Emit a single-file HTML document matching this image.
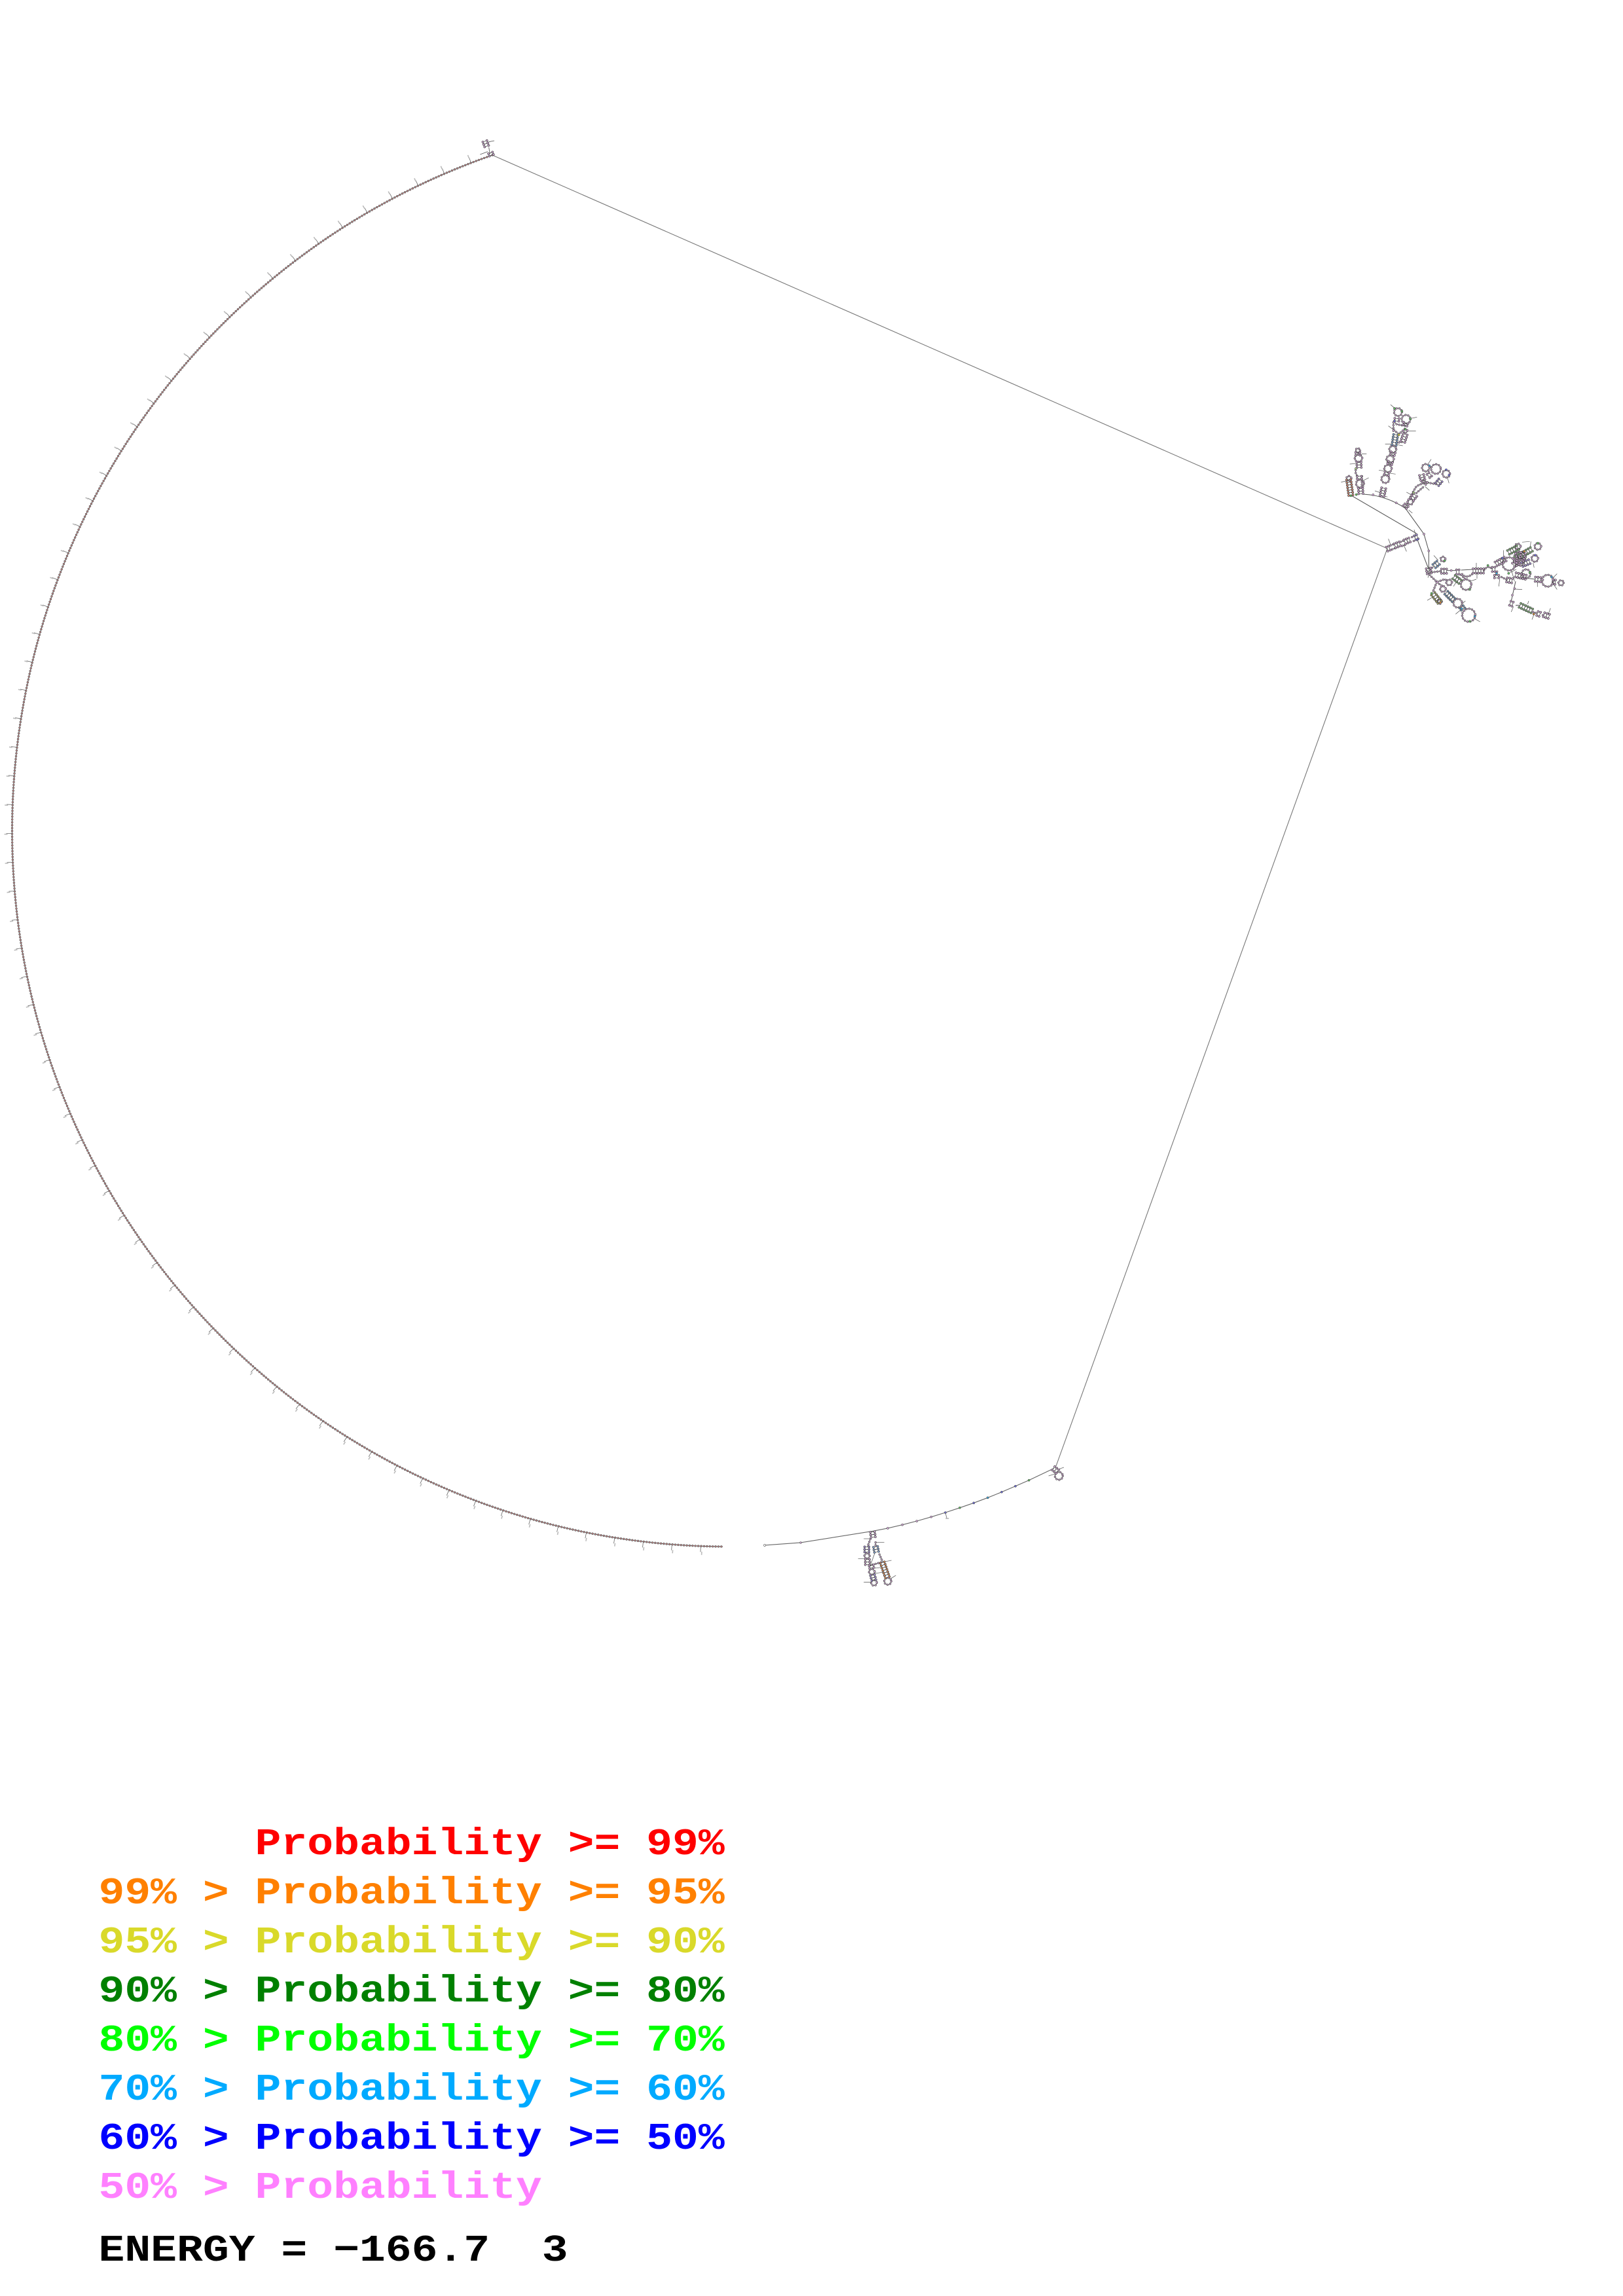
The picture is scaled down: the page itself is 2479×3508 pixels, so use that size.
<!DOCTYPE html>
<html><head><meta charset="utf-8"><style>
html,body{margin:0;padding:0;background:#fff}
svg{display:block}
text{font-family:"Liberation Mono",monospace;font-weight:bold;font-size:66px;white-space:pre}
</style></head><body>
<svg xmlns="http://www.w3.org/2000/svg" width="2479" height="3508" viewBox="0 0 2479 3508">
<defs>
<circle id="n" r="4.4" stroke="#4c4c4c" stroke-width="2.2"/>
<g id="r"><path d="M0-10V10" stroke="#444" stroke-width="2.2"/><use href="#n" y="-10"/><use href="#n" y="10"/></g>
<g id="l2"><path d="M0-10H12M0 10H12" stroke="#444" stroke-width="2.6"/><use href="#r"/><use href="#r" x="12"/></g>
<g id="l3"><use href="#l2"/><use href="#l2" x="12"/></g>
<g id="l4"><use href="#l3"/><use href="#l2" x="24"/></g>
<g id="l5"><use href="#l3"/><use href="#l3" x="24"/></g>
<g id="l6"><use href="#l5"/><use href="#l2" x="48"/></g>
<g id="l7"><use href="#l5"/><use href="#l3" x="48"/></g>
<g id="l8"><use href="#l5"/><use href="#l4" x="48"/></g>
<g id="bb">
<path d="M372,760L392,752M380,778L400,770M418,744L438,735M426,762L446,754M470,722L485,716M478,740L492,734"/>
<path d="M240,495L241,440M218,440Q205,420 218,405"/>
<path d="M385,235L385,190L400,205L438,212M398,290L430,285M388,232L410,250L438,225"/>
<path d="M440,585Q470,520 490,490Q510,478 525,475M490,520L525,490M530,470L585,480"/>
<path d="M552,870L572,855M548,885L603,878M800,875Q818,845 838,870M700,892Q720,915 748,890M695,895L715,915"/>
<path d="M550,895L585,928L620,915L635,925M583,930L565,975M585,930L612,948M708,1060L715,1060"/>
<path d="M860,880L856,897M880,905L905,918M1025,1065L1045,1072M1070,1080L1075,1078M1070,918L1065,918M1115,927L1119,927"/>
<circle cx="181" cy="453" r="11"/><circle cx="232" cy="477" r="18"/><circle cx="225" cy="360" r="17"/><circle cx="222" cy="325" r="10"/>
<circle cx="348" cy="456" r="18"/><circle cx="360" cy="408" r="17"/><circle cx="370" cy="365" r="17"/><circle cx="382" cy="320" r="16"/>
<circle cx="406" cy="149" r="18"/><circle cx="443" cy="182" r="20"/><circle cx="440" cy="235" r="9"/>
<circle cx="462" cy="560" r="13"/><circle cx="533" cy="404" r="17"/><circle cx="580" cy="410" r="22"/><circle cx="627" cy="432" r="17"/>
<circle cx="612" cy="823" r="11"/><circle cx="718" cy="940" r="24"/><circle cx="640" cy="930" r="13"/><circle cx="597" cy="1018" r="10"/><circle cx="612" cy="960" r="13"/><circle cx="680" cy="1025" r="20"/><circle cx="730" cy="1080" r="30"/>
<circle cx="955" cy="765" r="13"/><circle cx="1047" cy="765" r="15"/><circle cx="965" cy="815" r="26"/><circle cx="915" cy="845" r="30"/><circle cx="993" cy="890" r="20"/><circle cx="1033" cy="820" r="15"/><circle cx="1092" cy="922" r="27"/><circle cx="1153" cy="932" r="12"/><circle cx="965" cy="835" r="18"/><circle cx="950" cy="825" r="16"/>
</g>
<g id="bb2">
<path d="M208,455L195,490M232,470L232,488M250,525L265,560M207,575L262,560"/>
<circle cx="193" cy="532" r="12"/><circle cx="288" cy="648" r="16"/><circle cx="215" cy="605" r="13"/><circle cx="225" cy="655" r="13"/><circle cx="1072" cy="165" r="18"/>
</g>
</defs>

<path d="M752,237L2119,838L1613,2240" fill="none" stroke="#777" stroke-width="1.1"/>

<!-- long arc -->
<g fill="none">
<path d="M752,237A1093.5,1093.5 0 0 0 1104,2363" stroke="#555" stroke-width="1"/>
<path d="M752,237A1093.5,1093.5 0 0 0 1104,2363" stroke="#666" stroke-width="3.4" stroke-linecap="round" stroke-dasharray="0 4.4"/>
<path d="M752,237A1093.5,1093.5 0 0 0 1104,2363" stroke="#e08484" stroke-width="1.7" stroke-linecap="round" stroke-dasharray="0 4.4"/>
<path d="M750.5,232.75A1098,1098 0 0 0 1104,2367.5" stroke="#666" stroke-width="9" stroke-dasharray=".8 43.38" stroke-dashoffset="-34.3"/>
<path d="M748.5,227.1A1104.5,1104.5 0 0 0 1103.9,2374" stroke="#bbb" stroke-width="5" stroke-dasharray="1.6 42.82" stroke-dashoffset="-34.5"/>
</g>

<!-- top hairpin and lower clusters -->
<g transform="translate(680 180) scale(.3333)" fill="#d8a8dc">
<path d="M205,165L200,135M195,155L160,168M200,110L225,105" stroke="#555" stroke-width="2.5" fill="none"/>
<use href="#l2" transform="translate(212,172) rotate(-112)"/>
<use href="#l3" transform="translate(190,130) rotate(-110)"/>
</g>

<g transform="translate(1260 2200) scale(.3333)" fill="#d8a8dc">
<path d="M-276,483L-111,471L220,418L288,405L355,389L421,372L487,353L552,333L618,311L682,289L746,265L810,239L873,212L935,185L1050,130" fill="none" stroke="#666" stroke-width="3.4"/>
<g stroke="#555" stroke-width="1.8">
<circle cx="-276" cy="483" r="4.5" fill="#fff"/><circle cx="-111" cy="471" r="4"/>
<circle cx="288" cy="405" r="4.5"/><circle cx="355" cy="389" r="4.5"/><circle cx="421" cy="372" r="4.5"/><circle cx="487" cy="353" r="4.5"/>
<circle cx="552" cy="333" r="4.5" fill="#6a6ae0"/><circle cx="618" cy="311" r="4.5" fill="#5cc05c"/><circle cx="682" cy="289" r="4.5" fill="#6a6ae0"/><circle cx="746" cy="265" r="4.5" fill="#35a5e0"/><circle cx="810" cy="239" r="4.5" fill="#6a6ae0"/><circle cx="873" cy="212" r="4.5" fill="#6a6ae0"/><circle cx="935" cy="185" r="4.5" fill="#5cc05c"/>
</g>
<path d="M552,333L558,358M553,360H568M210,453H178M235,470H272M183,545H152M265,560L305,552M228,588L255,585M230,612L268,606M212,652H178M303,635L325,621M210,570L228,520M1068,135L1095,126M1050,157L1025,165" fill="none" stroke="#666" stroke-width="2.4"/>
<use href="#bb2" fill="none" stroke="#444" stroke-width="2.6"/>
<use href="#bb2" fill="none" stroke="#555" stroke-width="10" stroke-linecap="round" stroke-dasharray="0 13"/>
<use href="#bb2" fill="none" stroke="#d8a8dc" stroke-width="5.5" stroke-linecap="round" stroke-dasharray="0 13"/>
<use href="#l3" transform="translate(218,422) rotate(82)"/>
<use href="#l3" transform="translate(192,490) rotate(90)" fill="#a890e0"/>
<use href="#l3" transform="translate(195,548) rotate(90)"/>
<use href="#l3" transform="translate(232,490) rotate(79)" fill="#80a8e0"/>
<use href="#l7" transform="translate(263,562) rotate(71)" fill="#e08a50"/>
<use href="#l2" transform="translate(212,575) rotate(78)"/>
<use href="#l3" transform="translate(218,620) rotate(75)" fill="#a890e0"/>
<use href="#l3" transform="translate(1047,130) rotate(38)"/>
</g>

<!-- upper right clusters -->
<g transform="translate(2000 580) scale(.3333)" fill="#d8a8dc">
<path d="M190,530L490,705M495,735L545,865M245,525Q350,530 440,590L525,708L547,785L547,870M630,875L672,875M695,873L750,870M945,925L925,1015M945,1035L965,1035M950,905L1035,915M860,880H838" fill="none" stroke="#555" stroke-width="3.2"/>
<g stroke="#555" stroke-width="1.8">
<circle cx="292" cy="528" r="4.5"/><circle cx="330" cy="535" r="4.5"/><circle cx="398" cy="565" r="4.5"/><circle cx="525" cy="708" r="4.5"/><circle cx="547" cy="785" r="4.5"/><circle cx="650" cy="875" r="4.5"/><circle cx="930" cy="988" r="4.5"/><circle cx="940" cy="958" r="4.5"/>
</g>
<path d="M168,465L145,470M243,465L272,450M213,385L185,387M240,340L262,340M332,520L300,510M340,532L358,538M372,430L395,433M350,420L318,415M380,296L347,295M400,298L428,303M388,232L362,212M390,130L372,115M465,178L493,172M455,235L488,235M545,385L558,365M632,448L640,475M530,490L550,508M470,530L445,516M455,598L472,612M372,757L362,730M432,757L445,788M488,715L480,688M590,828L570,806M765,865V840M768,888V912M735,925L765,915M672,930L660,948M560,1000L540,1012M695,1030L715,1015M700,1050L670,1075M755,1095L782,1110M548,895L543,908M890,810L890,782M975,745L1010,742M1012,770L1015,742M872,915L868,948M925,870L940,925M1045,925L1045,950M1115,910L1135,890M1120,940L1135,962M1000,1030L1005,1015M1030,1075L1020,1100M935,1040L925,1065M1095,1075L1105,1048M940,960L975,962M1025,840L1030,862M948,870L920,885" fill="none" stroke="#555" stroke-width="2.2"/>
<use href="#bb" fill="none" stroke="#444" stroke-width="2.6"/>
<use href="#bb" fill="none" stroke="#555" stroke-width="10" stroke-linecap="round" stroke-dasharray="0 13"/>
<use href="#bb" fill="none" stroke="#d8a8dc" stroke-width="5.5" stroke-linecap="round" stroke-dasharray="0 13"/>

<use href="#l7" transform="translate(190,530) rotate(-98)" fill="#e08a70"/>
<use href="#l3" transform="translate(236,523) rotate(-93)"/>
<use href="#l2" transform="translate(229,455) rotate(-92)"/>
<use href="#l3" transform="translate(228,403) rotate(-92)"/>
<use href="#l2" transform="translate(222,347) rotate(-90)"/>
<use href="#l4" transform="translate(333,533) rotate(-78)"/>
<use href="#l2" transform="translate(353,436) rotate(-75)"/>
<use href="#l2" transform="translate(368,388) rotate(-72)"/>
<use href="#l2" transform="translate(380,345) rotate(-72)"/>
<use href="#l5" transform="translate(388,300) rotate(-81)" fill="#80a8e0"/>
<use href="#l2" transform="translate(400,190) rotate(-85)"/>
<use href="#l2" transform="translate(438,210) rotate(-70)"/>
<use href="#l4" transform="translate(428,285) rotate(-72)"/>
<use href="#l2" transform="translate(437,585) rotate(-48)"/>
<use href="#l3" transform="translate(470,548) rotate(-52)"/>
<use href="#l2" transform="translate(525,475) rotate(-55)"/>
<use href="#l3" transform="translate(520,460) rotate(-105)"/>
<use href="#l2" transform="translate(545,442) rotate(-40)"/>
<use href="#l3" transform="translate(585,480) rotate(-50)" fill="#a890e0"/>
<use href="#l2" transform="translate(356,777) rotate(-22)"/>
<use href="#l3" transform="translate(392,762) rotate(-22)"/>
<use href="#l3" transform="translate(437,744) rotate(-22)"/>
<use href="#l2" transform="translate(484,725) rotate(-22)" fill="#a890e0"/>

<use href="#l3" transform="translate(545,865) rotate(80)"/>
<use href="#l3" transform="translate(572,855) rotate(-40)" fill="#80a8e0"/>
<use href="#l3" transform="translate(605,878)"/>
<use href="#l2" transform="translate(674,882)"/>
<use href="#l5" transform="translate(750,877)"/>
<use href="#l2" transform="translate(838,870)"/>
<use href="#l4" transform="translate(662,905) rotate(37)" fill="#80b878"/>
<use href="#l5" transform="translate(567,982) rotate(52)" fill="#a8a860"/>
<use href="#l5" transform="translate(627,977) rotate(45)" fill="#7098c0"/>
<use href="#l2" transform="translate(697,1042) rotate(55)" fill="#7098c0"/>

<use href="#l5" transform="translate(855,845) rotate(-28)"/>
<use href="#l5" transform="translate(912,792) rotate(-27)" fill="#80b878"/>
<use href="#l8" transform="translate(945,820) rotate(-30)" fill="#80b878"/>
<use href="#l4" transform="translate(975,848) rotate(-22)" fill="#a890e0"/>
<use href="#l5" transform="translate(945,895) rotate(13)"/>
<use href="#l3" transform="translate(1035,915) rotate(5)"/>
<use href="#l2" transform="translate(1115,927) rotate(7)"/>
<use href="#l2" transform="translate(858,897) rotate(90)"/>
<use href="#l3" transform="translate(905,918) rotate(10)"/>
<use href="#l2" transform="translate(920,1025) rotate(20)"/>
<use href="#l6" transform="translate(965,1035) rotate(25)" fill="#80b878"/>
<use href="#l2" transform="translate(1045,1072) rotate(20)"/>
<use href="#l3" transform="translate(1075,1078) rotate(18)"/>
<use href="#l4" transform="translate(955,795) rotate(75)"/>
<use href="#l4" transform="translate(980,795) rotate(105)"/>
<use href="#l3" transform="translate(935,850) rotate(-30)"/>

<g stroke="#555" stroke-width="1.8">
<circle cx="190" cy="532" r="4.6" fill="#5cc05c"/><circle cx="215" cy="527" r="4.6" fill="#5cc05c"/>
<circle cx="390" cy="190" r="4.6" fill="#6a6ae0"/><circle cx="424" cy="145" r="4.6" fill="#5cc05c"/><circle cx="390" cy="132" r="4.6" fill="#5cc05c"/><circle cx="462" cy="180" r="4.6" fill="#5cc05c"/>
<circle cx="440" cy="228" r="4.6" fill="#5cc05c"/><circle cx="410" cy="253" r="4.6" fill="#d8d830"/>
<circle cx="213" cy="408" r="4.6" fill="#a8d080"/><circle cx="478" cy="518" r="4.6" fill="#a8d080"/>
<circle cx="627" cy="413" r="4.6" fill="#6a6ae0"/><circle cx="640" cy="438" r="4.6" fill="#6a6ae0"/><circle cx="550" cy="395" r="4.6" fill="#35a5e0"/>
<circle cx="495" cy="733" r="4.6" fill="#6a6ae0"/>
<circle cx="818" cy="852" r="4.6" fill="#5cc05c"/><circle cx="620" cy="830" r="4.6" fill="#5cc05c"/><circle cx="735" cy="962" r="4.6" fill="#5cc05c"/><circle cx="698" cy="1050" r="4.6" fill="#35a5e0"/><circle cx="735" cy="1108" r="4.6" fill="#5cc05c"/><circle cx="758" cy="1085" r="4.6" fill="#35a5e0"/>
<circle cx="560" cy="980" r="4.6" fill="#5cc05c"/><circle cx="600" cy="1022" r="4.6" fill="#e08a30"/>
<circle cx="913" cy="888" r="4.6" fill="#5cc05c"/><circle cx="1010" cy="885" r="4.6" fill="#5cc05c"/><circle cx="1110" cy="905" r="4.6" fill="#35a5e0"/><circle cx="1028" cy="1075" r="4.6" fill="#e08a30"/><circle cx="985" cy="787" r="4.6" fill="#e08a30"/><circle cx="1047" cy="750" r="4.6" fill="#5cc05c"/><circle cx="1035" cy="805" r="4.6" fill="#6a6ae0"/><circle cx="885" cy="818" r="4.6" fill="#6a6ae0"/><circle cx="858" cy="888" r="4.6" fill="#35a5e0"/>
</g>
</g>

<g>
<text transform="translate(150.5 2833) scale(1.006 .875)" fill="#ff0000">      Probability &gt;= 99%</text>
<text transform="translate(150.5 2908) scale(1.006 .875)" fill="#ff8000">99% &gt; Probability &gt;= 95%</text>
<text transform="translate(150.5 2983) scale(1.006 .875)" fill="#d9d92a">95% &gt; Probability &gt;= 90%</text>
<text transform="translate(150.5 3058) scale(1.006 .875)" fill="#008000">90% &gt; Probability &gt;= 80%</text>
<text transform="translate(150.5 3133) scale(1.006 .875)" fill="#00ff00">80% &gt; Probability &gt;= 70%</text>
<text transform="translate(150.5 3208) scale(1.006 .875)" fill="#00aaff">70% &gt; Probability &gt;= 60%</text>
<text transform="translate(150.5 3283) scale(1.006 .875)" fill="#0000ff">60% &gt; Probability &gt;= 50%</text>
<text transform="translate(150.5 3358) scale(1.006 .875)" fill="#ff80ff">50% &gt; Probability</text>
<text transform="translate(150.5 3454) scale(1.006 .875)" fill="#000000">ENERGY = −166.7  3</text>
</g>
</svg>
</body></html>
